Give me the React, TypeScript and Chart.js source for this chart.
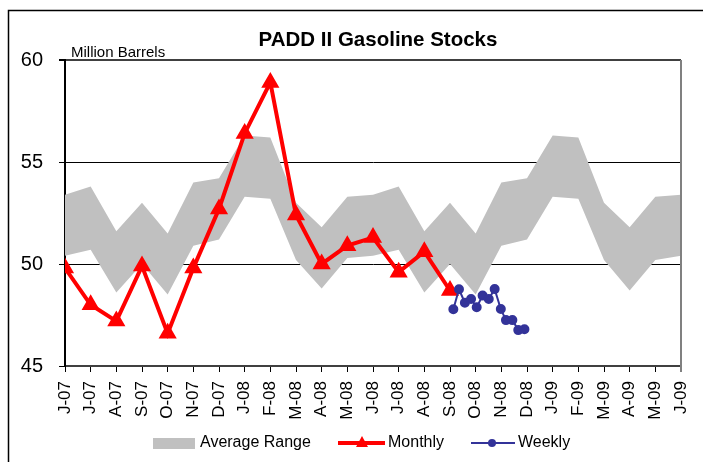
import React, { useEffect, useRef } from "react";
import { Chart, registerables } from "chart.js";

Chart.register(...registerables);

const monthLabels = [
  "J-07", "J-07", "A-07", "S-07", "O-07", "N-07", "D-07", "J-08", "F-08", "M-08",
  "A-08", "M-08", "J-08", "J-08", "A-08", "S-08", "O-08", "N-08", "D-08", "J-09",
  "F-09", "M-09", "A-09", "M-09", "J-09",
];

const rangeUpper = [
  53.4, 53.8, 51.6, 53.0, 51.5, 54.0, 54.2, 56.3, 56.2, 53.0, 51.8, 53.3, 53.4,
  53.8, 51.6, 53.0, 51.5, 54.0, 54.2, 56.3, 56.2, 53.0, 51.8, 53.3, 53.4,
];
const rangeLower = [
  50.4, 50.7, 48.6, 50.0, 48.5, 50.9, 51.2, 53.3, 53.2, 50.2, 48.8, 50.3, 50.4,
  50.7, 48.6, 50.0, 48.5, 50.9, 51.2, 53.3, 53.2, 50.2, 48.7, 50.2, 50.4,
];

const monthly = [
  49.8, 48.0, 47.2, 49.9, 46.6, 49.8, 52.7, 56.4, 58.9, 52.4, 50.0, 50.9, 51.3,
  49.6, 50.6, 48.7,
];

// weekly positions measured in month units along the axis
const weeklyX = [15.13, 15.35, 15.58, 15.82, 16.04, 16.27, 16.51, 16.74, 16.98, 17.18, 17.43, 17.66, 17.9];
const weekly = [47.78, 48.76, 48.1, 48.28, 47.88, 48.45, 48.28, 48.77, 47.79, 47.25, 47.25, 46.76, 46.8];

const yTicks = [45, 50, 55, 60];

const FONT = "'Liberation Sans', Arial, sans-serif";

const decorPlugin = {
  id: "decor",
  afterDraw(chart: any) {
    const ctx = chart.ctx;
    const ca = chart.chartArea;
    ctx.save();
    // right border of plot area
    ctx.strokeStyle = "#808080";
    ctx.lineWidth = 2;
    ctx.beginPath();
    ctx.moveTo(ca.right, ca.top);
    ctx.lineTo(ca.right, ca.bottom + 6);
    ctx.stroke();
    // outer frame
    ctx.strokeStyle = "#000";
    ctx.lineWidth = 1.5;
    ctx.beginPath();
    ctx.moveTo(8.5, 462);
    ctx.lineTo(8.5, 10.5);
    ctx.lineTo(703, 10.5);
    ctx.stroke();
    // title
    ctx.fillStyle = "#000";
    ctx.font = "bold 20.5px " + FONT;
    ctx.textAlign = "center";
    ctx.textBaseline = "alphabetic";
    ctx.fillText("PADD II Gasoline Stocks", 378, 46);
    ctx.font = "15px " + FONT;
    ctx.textAlign = "left";
    ctx.fillText("Million Barrels", 71, 57);
    // legend
    const ly = 443;
    ctx.fillStyle = "#C0C0C0";
    ctx.fillRect(153, 438, 42, 11);
    ctx.fillStyle = "#000";
    ctx.font = "16px " + FONT;
    ctx.textBaseline = "middle";
    ctx.fillText("Average Range", 200, ly);
    ctx.strokeStyle = "#FF0000";
    ctx.lineWidth = 4;
    ctx.beginPath();
    ctx.moveTo(338, ly);
    ctx.lineTo(385, ly);
    ctx.stroke();
    ctx.fillStyle = "#FF0000";
    ctx.beginPath();
    ctx.moveTo(362, ly - 7);
    ctx.lineTo(368, ly + 4);
    ctx.lineTo(356, ly + 4);
    ctx.closePath();
    ctx.fill();
    ctx.fillStyle = "#000";
    ctx.fillText("Monthly", 388, ly);
    ctx.strokeStyle = "#333399";
    ctx.lineWidth = 2;
    ctx.beginPath();
    ctx.moveTo(471, ly);
    ctx.lineTo(515, ly);
    ctx.stroke();
    ctx.fillStyle = "#333399";
    ctx.beginPath();
    ctx.arc(492, ly, 4, 0, Math.PI * 2);
    ctx.fill();
    ctx.fillStyle = "#000";
    ctx.fillText("Weekly", 518, ly);
    ctx.restore();
  },
};

export default function App() {
  const ref = useRef<HTMLCanvasElement>(null);
  useEffect(() => {
    document.body.style.margin = "0";
    const canvas = ref.current!;
    const chart = new Chart(canvas, {
      type: "line",
      data: {
        datasets: [
          {
            label: "Weekly",
            data: weekly.map((v, i) => ({ x: weeklyX[i], y: v })),
            borderColor: "#333399",
            backgroundColor: "#333399",
            borderWidth: 2,
            pointRadius: 4,
            pointStyle: "circle",
            order: 0,
            fill: false,
          },
          {
            label: "Monthly",
            data: monthly.map((v, i) => ({ x: i, y: v })),
            borderColor: "#FF0000",
            backgroundColor: "#FF0000",
            borderWidth: 4,
            pointRadius: 6.5,
            pointStyle: "triangle",
            order: 1,
            fill: false,
          },
          {
            label: "Upper",
            data: rangeUpper.map((v, i) => ({ x: i, y: v })),
            borderWidth: 0,
            borderColor: "rgba(0,0,0,0)",
            backgroundColor: "#C0C0C0",
            pointRadius: 0,
            fill: "+1",
            order: 2,
          },
          {
            label: "Lower",
            data: rangeLower.map((v, i) => ({ x: i, y: v })),
            borderWidth: 0,
            borderColor: "rgba(0,0,0,0)",
            backgroundColor: "#C0C0C0",
            pointRadius: 0,
            fill: false,
            order: 3,
          },
        ],
      },
      options: {
        responsive: false,
        animation: false,
        layout: { padding: { left: 0, top: 60, right: 22, bottom: 0 } },
        plugins: {
          legend: { display: false },
          title: { display: false },
          tooltip: { enabled: false },
        },
        scales: {
          x: {
            type: "linear",
            min: 0,
            max: monthLabels.length - 1,
            afterFit: (s: any) => {
              s.height = 96;
              s.paddingLeft = 0;
              s.paddingRight = 0;
            },
            afterBuildTicks: (s: any) => {
              s.ticks = monthLabels.map((_, i) => ({ value: i }));
            },
            grid: {
              drawOnChartArea: false,
              drawTicks: true,
              tickLength: 6,
              tickColor: "#000",
              lineWidth: 1,
            },
            border: { display: true, color: "#404040", width: 2 },
            ticks: {
              autoSkip: false,
              minRotation: 90,
              maxRotation: 90,
              padding: 9,
              color: "#000",
              font: { family: FONT, size: 17 },
              callback: (v: any) => monthLabels[Math.round(Number(v))],
            },
          },
          y: {
            min: 45,
            max: 60,
            afterFit: (s: any) => {
              s.width = 65;
              s.paddingTop = 0;
              s.paddingBottom = 0;
            },
            afterBuildTicks: (s: any) => {
              s.ticks = yTicks.map((v) => ({ value: v }));
            },
            grid: {
              color: (c: any) => (c.tick && c.tick.value === 60 ? "#404040" : "#000"),
              lineWidth: (c: any) => (c.tick && c.tick.value === 60 ? 2 : 1),
              tickLength: 6,
              tickColor: "#000",
            },
            border: { display: true, color: "#000", width: 2 },
            ticks: {
              padding: 16,
              color: "#000",
              font: { family: FONT, size: 20 },
            },
          },
        },
      },
      plugins: [decorPlugin],
    });
    return () => chart.destroy();
  }, []);
  return (
    <div style={{ width: 703, height: 462 }}>
      <canvas ref={ref} width={703} height={462} style={{ display: "block" }} />
    </div>
  );
}
